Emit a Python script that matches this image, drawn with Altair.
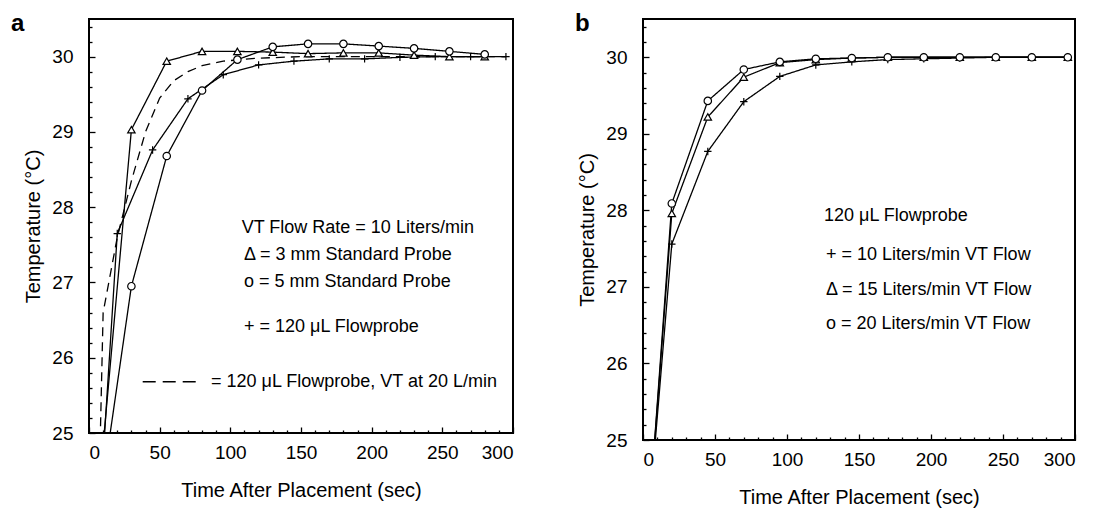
import altair as alt
import pandas as pd

# ---------------- Panel a data (time in s, temperature in deg C) ----------------
t_std_a = [5, 30, 55, 80, 105, 130, 155, 180, 205, 230, 255, 280]
tri_a = [23.8, 29.03, 29.94, 30.07, 30.07, 30.06, 30.04, 30.05, 30.05, 30.02, 30.00, 30.00]
circ_a = [23.7, 26.95, 28.68, 29.55, 29.96, 30.13, 30.17, 30.17, 30.14, 30.11, 30.07, 30.03]
t_plus_a = [5, 20, 45, 70, 95, 120, 145, 170, 195, 220, 245, 270, 295]
plus_a = [23.2, 27.65, 28.76, 29.44, 29.76, 29.89, 29.94, 29.97, 29.97, 29.99, 30.0, 30.0, 30.0]
t_dash_a = [5, 10, 20, 30, 40, 50, 60, 70, 80, 95, 120, 150, 200, 250, 295]
dash_a = [22.5, 26.6, 27.6, 28.35, 29.0, 29.45, 29.68, 29.8, 29.88, 29.94, 29.98, 30.0, 30.0, 30.0, 30.0]

# ---------------- Panel b data ----------------
t_b = [5, 20, 45, 70, 95, 120, 145, 170, 195, 220, 245, 270, 295]
plus_b = [24.2, 27.56, 28.77, 29.42, 29.75, 29.90, 29.94, 29.97, 29.98, 29.99, 30.0, 30.0, 30.0]
tri_b = [24.2, 27.96, 29.22, 29.74, 29.93, 29.97, 29.99, 30.0, 30.0, 30.0, 30.0, 30.0, 30.0]
circ_b = [24.2, 28.09, 29.43, 29.84, 29.94, 29.98, 29.99, 30.0, 30.0, 30.0, 30.0, 30.0, 30.0]

# ---------------- Annotation texts ----------------
texts_a = ["VT Flow Rate = 10 Liters/min", "\u0394 = 3 mm Standard Probe",
           "o = 5 mm Standard Probe", "+ = 120 \u03bcL Flowprobe"]
texts_a_t = [108, 109.7, 109.7, 109.7]
texts_a_T = [27.72, 27.37, 27.01, 26.41]
dash_text_a = "= 120 \u03bcL Flowprobe, VT at 20 L/min"
dash_text_pos = [86.3, 25.68]
dash_sample_t = [38, 76]

texts_b = ["120 \u03bcL Flowprobe", "+ = 10 Liters/min VT Flow",
           "\u0394 = 15 Liters/min VT Flow", "o = 20 Liters/min VT Flow"]
texts_b_t = [125.7, 127, 127, 127]
texts_b_T = [27.92, 27.42, 26.96, 26.51]

x_major = [0, 50, 100, 150, 200, 250, 300]
x_minor = [v for v in range(10, 300, 10) if v % 50 != 0]
y_major = [25, 26, 27, 28, 29, 30]
y_minor = [round(25 + 0.2 * i, 1) for i in range(1, 28) if i % 5 != 0]

FONT = "Liberation Sans"
XDOM = [0, 300]
YDOM = [25, 30.5]

PLUS_PATH = "M-1,0H1M0,-1V1"
shape_scale = alt.Scale(domain=["tri", "circ", "plus"],
                        range=["triangle-up", "circle", PLUS_PATH])


def long_df(pairs):
    rows = []
    for name, ts, vs in pairs:
        for t, v in zip(ts, vs):
            rows.append({"t": t, "T": v, "s": name})
    return pd.DataFrame(rows)


def xenc(axis):
    return alt.X("t:Q", scale=alt.Scale(domain=XDOM, nice=False, zero=False), axis=axis)


def yenc(axis):
    return alt.Y("T:Q", scale=alt.Scale(domain=YDOM, nice=False, zero=False), axis=axis)


major_x_axis = alt.Axis(values=x_major, title="Time After Placement (sec)", domain=False,
                        grid=False, tickSize=6, offset=-6, labelPadding=10, titlePadding=18,
                        orient="bottom", format="d")
major_y_axis = alt.Axis(values=y_major, title="Temperature (\u00b0C)", domain=False,
                        grid=False, tickSize=6, offset=-6, labelPadding=16, titlePadding=8,
                        orient="left", format="d")
minor_x_axis = alt.Axis(values=x_minor, title=None, labels=False, domain=False, grid=False,
                        tickSize=3, offset=-3, orient="bottom")
minor_y_axis = alt.Axis(values=y_minor, title=None, labels=False, domain=False, grid=False,
                        tickSize=3, offset=-3, orient="left")


def panel(line_df, pt_df, tdf, letter, letter_x, w, h, extra=None):
    lines = alt.Chart(line_df).mark_line(clip=True, color="black", strokeWidth=1.3).encode(
        x=xenc(major_x_axis), y=yenc(major_y_axis), detail="s:N",
        strokeDash=alt.StrokeDash("s:N", scale=alt.Scale(domain=["tri", "circ", "plus", "dash"],
                                  range=[[1, 0], [1, 0], [1, 0], [9, 6]]), legend=None),
        order="t:Q")
    pts = alt.Chart(pt_df).mark_point(clip=True, color="black", filled=False, fill="white",
                                      fillOpacity=1, strokeWidth=1.2, size=55, opacity=1).encode(
        x=xenc(minor_x_axis), y=yenc(minor_y_axis),
        shape=alt.Shape("s:N", scale=shape_scale, legend=None))
    txt = alt.Chart(tdf).mark_text(align="left", baseline="middle", font=FONT, fontSize=18,
                                   color="black").encode(
        x=xenc(None), y=yenc(None), text="label:N")
    let = alt.Chart(pd.DataFrame({"l": [letter]})).mark_text(
        align="left", baseline="top", font=FONT, fontSize=24, fontWeight="bold",
        color="black").encode(x=alt.value(letter_x), y=alt.value(-7), text="l:N")
    layers = [lines, pts, txt, let]
    if extra is not None:
        layers += extra
    return alt.layer(*layers).resolve_axis(x="independent", y="independent").properties(
        width=w, height=h)


# panel a frames
lines_a = long_df([("tri", t_std_a, tri_a), ("circ", t_std_a, circ_a),
                   ("plus", t_plus_a, plus_a), ("dash", t_dash_a, dash_a)])
pts_a = long_df([("tri", t_std_a, tri_a), ("circ", t_std_a, circ_a),
                 ("plus", t_plus_a, plus_a)])
tdf_a = pd.DataFrame({"t": texts_a_t + [dash_text_pos[0]],
                      "T": texts_a_T + [dash_text_pos[1]],
                      "label": texts_a + [dash_text_a]})
leg_df = pd.DataFrame({"t": [dash_sample_t[0]], "t2": [dash_sample_t[1]], "T": [dash_text_pos[1]]})
leg_rule = alt.Chart(leg_df).mark_rule(color="black", strokeWidth=1.5, strokeDash=[13, 7]).encode(
    x=xenc(None), x2="t2:Q", y=yenc(None))

chart_a = panel(lines_a, pts_a, tdf_a, "a", -78, 424, 414, extra=[leg_rule])

lines_b = long_df([("plus", t_b, plus_b), ("tri", t_b, tri_b), ("circ", t_b, circ_b)])
tdf_b = pd.DataFrame({"t": texts_b_t, "T": texts_b_T, "label": texts_b})
chart_b = panel(lines_b, lines_b, tdf_b, "b", -68, 432, 421)

chart = alt.hconcat(chart_a, chart_b, spacing=59).properties(
    padding={"left": 2, "top": 3, "right": 0, "bottom": 0}
).configure_view(stroke="black", strokeWidth=2).configure_axis(
    labelFont=FONT, titleFont=FONT, labelFontSize=19, titleFontSize=20,
    titleFontWeight="normal", labelColor="black", titleColor="black",
    tickColor="black", tickWidth=1.3
)

chart.save("out.html", embed_options={"renderer": "svg", "actions": False})
